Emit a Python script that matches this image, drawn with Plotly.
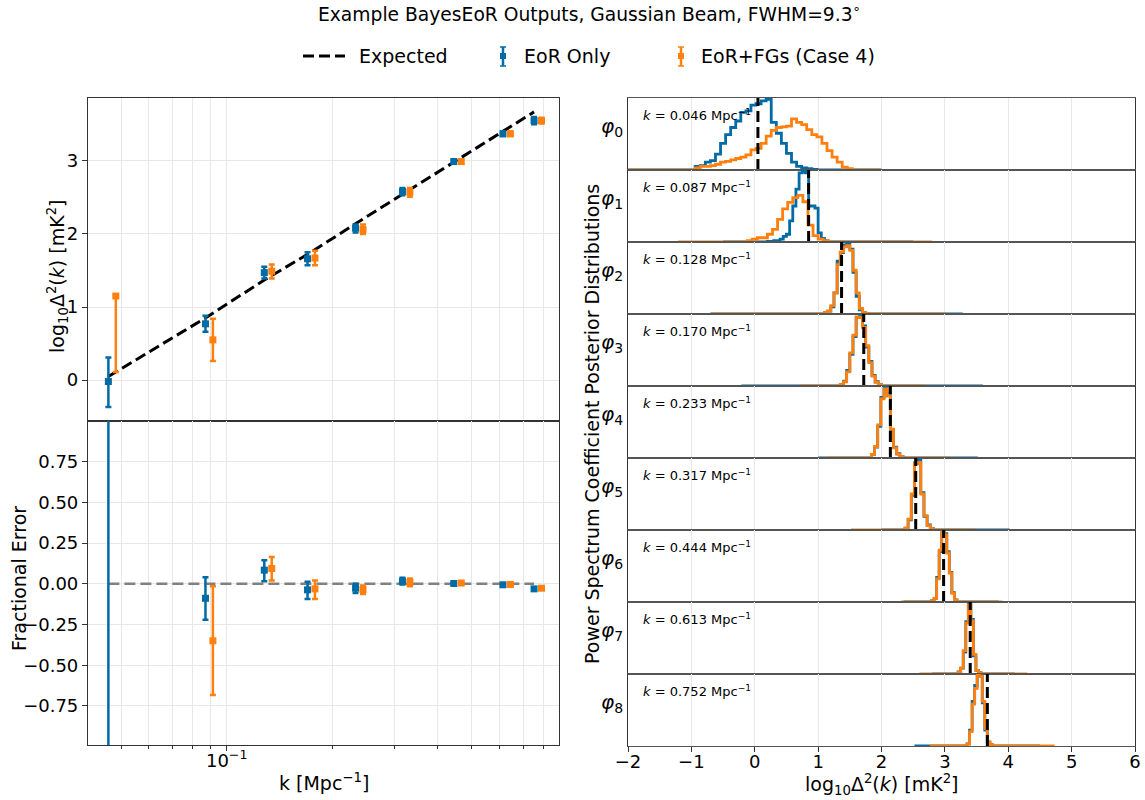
import math
import plotly.graph_objects as go

# ---------------- data ----------------
k_vals = [0.046, 0.087, 0.128, 0.170, 0.233, 0.317, 0.444, 0.613, 0.752]
k_labels = ["0.046", "0.087", "0.128", "0.170", "0.233", "0.317", "0.444", "0.613", "0.752"]
expected = [0.05, 0.85, 1.37, 1.72, 2.14, 2.54, 2.98, 3.40, 3.67]

eor_val = [-0.02, 0.77, 1.47, 1.66, 2.08, 2.58, 2.99, 3.37, 3.55]
eor_hi = [0.31, 0.88, 1.55, 1.75, 2.13, 2.63, 3.02, 3.40, 3.60]
eor_lo = [-0.37, 0.66, 1.39, 1.57, 2.02, 2.53, 2.96, 3.34, 3.50]

fg_val = [1.15, 0.55, 1.49, 1.67, 2.06, 2.57, 2.99, 3.37, 3.55]
fg_hi = [1.17, 0.84, 1.58, 1.77, 2.13, 2.63, 3.02, 3.40, 3.59]
fg_lo = [0.11, 0.26, 1.39, 1.57, 2.00, 2.51, 2.96, 3.34, 3.51]

eor_frac = [1.5, -0.089, 0.084, -0.037, -0.027, 0.016, 0.002, -0.006, -0.031]
eor_frac_hi = [6.0, 0.04, 0.144, 0.012, 0.0, 0.037, 0.010, 0.002, -0.021]
eor_frac_lo = [-3.0, -0.22, 0.016, -0.093, -0.056, -0.004, -0.006, -0.014, -0.041]

fg_frac = [11.6, -0.35, 0.094, -0.031, -0.035, 0.008, 0.005, -0.004, -0.027]
fg_frac_hi = [12.0, -0.015, 0.164, 0.02, -0.01, 0.033, 0.013, 0.004, -0.019]
fg_frac_lo = [1.3, -0.683, 0.020, -0.093, -0.062, -0.015, -0.003, -0.012, -0.035]

zero_line = [0, 0, 0, 0, 0, 0, 0, 0, 0]

# posterior histograms (relative heights), bin starts, widths, tail extents
eor_hist_start = [-0.94, 0.20, 1.10, 1.35, 1.84, 2.37, 2.79, 3.21, 3.35]
eor_hist_width = [0.08, 0.05, 0.05, 0.05, 0.05, 0.05, 0.04, 0.04, 0.04]
eor_hist_counts = [
    [0.05, 0.06, 0.11, 0.13, 0.22, 0.37, 0.49, 0.59, 0.68, 0.80, 0.82, 0.90, 0.92, 0.96, 0.98, 0.66, 0.51, 0.37, 0.23, 0.11, 0.05, 0.03, 0.02, 0.01],
    [0.01, 0.01, 0.02, 0.02, 0.04, 0.08, 0.11, 0.30, 0.51, 0.75, 0.98, 1.0, 0.98, 0.51, 0.51, 0.48, 0.13, 0.05, 0.02],
    [0.02, 0.04, 0.10, 0.30, 0.75, 0.87, 0.98, 1.00, 0.92, 0.59, 0.25, 0.06, 0.02, 0.01],
    [0.02, 0.07, 0.22, 0.45, 0.70, 0.97, 1.00, 0.85, 0.55, 0.35, 0.15, 0.06, 0.02],
    [0.05, 0.15, 0.44, 0.84, 0.98, 0.90, 0.39, 0.15, 0.06, 0.02],
    [0.02, 0.14, 0.48, 0.93, 0.98, 0.52, 0.19, 0.07, 0.02],
    [0.02, 0.05, 0.34, 0.70, 0.98, 0.95, 0.70, 0.41, 0.13, 0.03],
    [0.03, 0.08, 0.30, 0.72, 0.97, 0.75, 0.25, 0.05, 0.02],
    [0.03, 0.22, 0.62, 0.84, 0.97, 0.98, 0.60, 0.22, 0.05, 0.02],
]
eor_hist_tail_lo = [-2.3, -0.5, -0.7, -0.21, 1.0, 2.0, 2.35, 2.8, 2.52]
eor_hist_tail_hi = [2.0, 2.5, 3.28, 3.6, 3.52, 4.02, 3.85, 4.1, 4.5]

fg_hist_start = [-0.94, -0.12, 1.10, 1.35, 1.84, 2.37, 2.79, 3.21, 3.35]
fg_hist_width = [0.08, 0.08, 0.05, 0.05, 0.05, 0.05, 0.04, 0.04, 0.04]
fg_hist_counts = [
    [0.03, 0.05, 0.05, 0.06, 0.08, 0.11, 0.12, 0.14, 0.16, 0.18, 0.21, 0.28, 0.30, 0.37, 0.47, 0.55, 0.59, 0.60, 0.61, 0.71, 0.66, 0.63, 0.56, 0.49, 0.46, 0.37, 0.27, 0.18, 0.11, 0.04, 0.02],
    [0.02, 0.04, 0.06, 0.06, 0.11, 0.18, 0.32, 0.47, 0.56, 0.63, 0.66, 0.57, 0.24, 0.09, 0.04, 0.02],
    [0.02, 0.04, 0.12, 0.30, 0.70, 0.88, 0.95, 0.97, 0.90, 0.62, 0.30, 0.08, 0.02, 0.01],
    [0.02, 0.06, 0.20, 0.47, 0.72, 0.98, 0.97, 0.83, 0.57, 0.33, 0.14, 0.05, 0.02],
    [0.05, 0.16, 0.46, 0.82, 0.96, 0.86, 0.40, 0.14, 0.05, 0.02],
    [0.03, 0.15, 0.50, 0.92, 0.94, 0.50, 0.20, 0.06, 0.02],
    [0.02, 0.05, 0.32, 0.72, 0.97, 0.93, 0.68, 0.40, 0.12, 0.03],
    [0.03, 0.08, 0.32, 0.70, 0.95, 0.73, 0.27, 0.05, 0.02],
    [0.03, 0.20, 0.58, 0.80, 0.98, 0.97, 0.62, 0.24, 0.06, 0.02],
]
fg_hist_tail_lo = [-2.3, -1.21, -0.68, 0.71, 1.13, 1.52, 2.31, 2.6, 2.76]
fg_hist_tail_hi = [1.97, 2.8, 3.02, 2.7, 3.08, 3.47, 3.91, 4.3, 4.73]

right_xticks = [-2, -1, 0, 1, 2, 3, 4, 5, 6]
right_xticktext = ["−2", "−1", "0", "1", "2", "3", "4", "5", "6"]
left_top_yticks = [0, 1, 2, 3]
left_bot_yticks = [-0.75, -0.5, -0.25, 0.0, 0.25, 0.5, 0.75]
left_bot_yticktext = ["−0.75", "−0.50", "−0.25", "0.00", "0.25", "0.50", "0.75"]
minor_k = [0.05, 0.06, 0.07, 0.08, 0.09, 0.2, 0.3, 0.4, 0.5, 0.6, 0.7, 0.8]

# ---------------- style ----------------
BLUE = "#006BA4"
ORANGE = "#FF800E"
GRID = "#e8e8e8"
AXC = "#333333"
SEP = "#555555"
FONT = "DejaVu Sans"
W, H = 1145, 800
DASH = "11px,5px"
OFFSET = 1.05
TICKF = dict(family=FONT, size=18, color="black")
LABF = dict(family=FONT, size=19, color="black")


def px_x(p):
    return p / W


def px_y(p):
    return 1 - p / H


fig = go.Figure()

# ---------- left top ----------
k_fg = [k * OFFSET for k in k_vals]
fig.add_trace(go.Scatter(x=k_vals, y=expected, mode="lines", line=dict(color="black", width=3, dash=DASH),
                         xaxis="x", yaxis="y", showlegend=False))
fig.add_trace(go.Scatter(
    x=k_vals, y=eor_val, mode="markers", marker=dict(symbol="square", size=7, color=BLUE),
    error_y=dict(type="data", symmetric=False, array=[h - v for h, v in zip(eor_hi, eor_val)],
                 arrayminus=[v - l for v, l in zip(eor_val, eor_lo)], color=BLUE, thickness=2.5, width=3),
    xaxis="x", yaxis="y", showlegend=False))
fig.add_trace(go.Scatter(
    x=k_fg, y=fg_val, mode="markers", marker=dict(symbol="square", size=7, color=ORANGE),
    error_y=dict(type="data", symmetric=False, array=[h - v for h, v in zip(fg_hi, fg_val)],
                 arrayminus=[v - l for v, l in zip(fg_val, fg_lo)], color=ORANGE, thickness=2.5, width=3),
    xaxis="x", yaxis="y", showlegend=False))

# ---------- left bottom ----------
fig.add_trace(go.Scatter(x=k_vals, y=zero_line, mode="lines", line=dict(color="#808080", width=2.5, dash=DASH),
                         xaxis="x2", yaxis="y2", showlegend=False))
fig.add_trace(go.Scatter(
    x=k_vals, y=eor_frac, mode="markers", marker=dict(symbol="square", size=7, color=BLUE),
    error_y=dict(type="data", symmetric=False, array=[h - v for h, v in zip(eor_frac_hi, eor_frac)],
                 arrayminus=[v - l for v, l in zip(eor_frac, eor_frac_lo)], color=BLUE, thickness=2.5, width=3),
    xaxis="x2", yaxis="y2", showlegend=False))
fig.add_trace(go.Scatter(
    x=k_fg, y=fg_frac, mode="markers", marker=dict(symbol="square", size=7, color=ORANGE),
    error_y=dict(type="data", symmetric=False, array=[h - v for h, v in zip(fg_frac_hi, fg_frac)],
                 arrayminus=[v - l for v, l in zip(fg_frac, fg_frac_lo)], color=ORANGE, thickness=2.5, width=3),
    xaxis="x2", yaxis="y2", showlegend=False))

xr = [math.log10(0.04024), math.log10(0.8857)]
left_dom = [px_x(88), px_x(559)]
common_left_x = dict(type="log", range=xr, domain=left_dom, showline=True, linecolor=AXC, linewidth=1.2,
                     mirror=True, ticks="outside", ticklen=5, tickcolor=AXC, tickvals=[0.1],
                     showgrid=True, gridcolor=GRID, gridwidth=1, zeroline=False, automargin=False,
                     minor=dict(tickvals=minor_k, ticks="outside", ticklen=3, tickcolor=AXC,
                                showgrid=True, gridcolor=GRID, gridwidth=1),
                     tickfont=TICKF)
layout = dict(
    template="none",
    width=W, height=H, margin=dict(l=0, r=0, t=0, b=0, pad=0, autoexpand=False),
    paper_bgcolor="white", plot_bgcolor="white",
    font=dict(family=FONT, color="black"),
    showlegend=False,
)
layout["xaxis"] = dict(common_left_x, anchor="y", showticklabels=False)
layout["xaxis2"] = dict(common_left_x, anchor="y2", ticktext=["10<sup>−1</sup>"], ticklabelstandoff=-6)
layout["yaxis"] = dict(domain=[px_y(421), px_y(98)], range=[-0.56, 3.86], anchor="x", tickvals=left_top_yticks,
                       showline=True, linecolor=AXC, linewidth=1.2, mirror=True, ticks="outside", ticklen=5,
                       tickcolor=AXC, showgrid=True, gridcolor=GRID, zeroline=False, tickfont=TICKF,
                       automargin=False)
layout["yaxis2"] = dict(domain=[px_y(745), px_y(421)], range=[-0.99, 1.0], anchor="x2", tickvals=left_bot_yticks,
                        ticktext=left_bot_yticktext,
                        showline=True, linecolor=AXC, linewidth=1.2, mirror=True, ticks="outside", ticklen=5,
                        tickcolor=AXC, showgrid=True, gridcolor=GRID, zeroline=False, tickfont=TICKF,
                        automargin=False)

# ---------- right histograms ----------
annotations = []


def hist_xy(start, width, counts, lo, hi):
    xs = [lo]
    ys = [0]
    for i, c in enumerate(counts):
        xs.append(start + i * width)
        ys.append(c)
    xs.append(start + len(counts) * width)
    ys.append(0)
    xs.append(hi)
    ys.append(0)
    return xs, ys


right_dom = [px_x(628), px_x(1135)]
n = len(k_vals)
for i in range(n):
    ax = i + 3
    xa = "x%d" % ax
    ya = "y%d" % ax
    bx, by = hist_xy(eor_hist_start[i], eor_hist_width[i], eor_hist_counts[i], eor_hist_tail_lo[i], eor_hist_tail_hi[i])
    ox, oy = hist_xy(fg_hist_start[i], fg_hist_width[i], fg_hist_counts[i], fg_hist_tail_lo[i], fg_hist_tail_hi[i])
    ymax = max(max(eor_hist_counts[i]), max(fg_hist_counts[i])) * 1.02
    fig.add_trace(go.Scatter(x=bx, y=by, mode="lines", line=dict(color=BLUE, width=2.8, shape="hv"),
                             xaxis=xa, yaxis=ya, showlegend=False))
    fig.add_trace(go.Scatter(x=ox, y=oy, mode="lines", line=dict(color=ORANGE, width=2.8, shape="hv"),
                             xaxis=xa, yaxis=ya, showlegend=False))
    fig.add_trace(go.Scatter(x=[expected[i], expected[i]], y=[0, ymax], mode="lines",
                             line=dict(color="black", width=3, dash=DASH),
                             xaxis=xa, yaxis=ya, showlegend=False))
    top = 98 + 72 * i
    bot = top + 72
    last = (i == n - 1)
    xdict = dict(domain=right_dom, anchor=ya, range=[-2, 6], tickvals=right_xticks,
                 showticklabels=last, ticks="outside" if last else "", ticklen=5,
                 tickcolor=AXC, showline=True, linecolor=SEP, linewidth=1.3, mirror=True,
                 showgrid=True, gridcolor=GRID, zeroline=False, tickfont=TICKF, automargin=False,
                 layer="below traces")
    if last:
        xdict["ticklabelstandoff"] = -6
        xdict["ticktext"] = right_xticktext
    layout["xaxis%d" % ax] = xdict
    layout["yaxis%d" % ax] = dict(domain=[px_y(bot), px_y(top)], anchor=xa, range=[0, ymax],
                                  showticklabels=False, ticks="", showgrid=False, zeroline=False,
                                  showline=True, linecolor=AXC, linewidth=1.2, mirror=True, automargin=False)
    annotations.append(dict(text="<i>k</i> = %s Mpc<sup>−1</sup>" % k_labels[i], xref="%s domain" % xa,
                            yref="%s domain" % ya, x=0.025, y=0.76, xanchor="left", yanchor="middle",
                            showarrow=False, font=dict(family=FONT, size=13, color="black")))
    annotations.append(dict(text="<i>φ</i><sub>%d</sub>" % i, xref="paper", yref="paper",
                            x=px_x(625), y=px_y(top + 29), xanchor="right", yanchor="middle",
                            showarrow=False, font=dict(family=FONT, size=20, color="black")))

# ---------- titles / labels ----------
annotations += [
    dict(text="Example BayesEoR Outputs, Gaussian Beam, FWHM=9.3<sup>∘</sup>", xref="paper", yref="paper",
         x=px_x(589), y=px_y(13), xanchor="center", yanchor="middle", showarrow=False,
         font=dict(family=FONT, size=18.7, color="black")),
    dict(text="log<sub>10</sub>Δ<sup>2</sup>(<i>k</i>) [mK<sup>2</sup>]", xref="paper", yref="paper",
         x=px_x(57), y=px_y(276), textangle=-90, xanchor="center", yanchor="middle", showarrow=False,
         font=LABF),
    dict(text="Fractional Error", xref="paper", yref="paper",
         x=px_x(19), y=px_y(579), textangle=-90, xanchor="center", yanchor="middle", showarrow=False,
         font=LABF),
    dict(text="k [Mpc<sup>−1</sup>]", xref="paper", yref="paper",
         x=px_x(324), y=px_y(782), xanchor="center", yanchor="middle", showarrow=False,
         font=LABF),
    dict(text="log<sub>10</sub>Δ<sup>2</sup>(<i>k</i>) [mK<sup>2</sup>]", xref="paper", yref="paper",
         x=px_x(882), y=px_y(784), xanchor="center", yanchor="middle", showarrow=False,
         font=LABF),
    dict(text="Power Spectrum Coefficient Posterior Distributions", xref="paper", yref="paper",
         x=px_x(592), y=px_y(424), textangle=-90, xanchor="center", yanchor="middle", showarrow=False,
         font=LABF),
    # legend texts
    dict(text="Expected", xref="paper", yref="paper", x=px_x(357), y=px_y(56), xanchor="left",
         yanchor="middle", showarrow=False, font=LABF),
    dict(text="EoR Only", xref="paper", yref="paper", x=px_x(522), y=px_y(56), xanchor="left",
         yanchor="middle", showarrow=False, font=LABF),
    dict(text="EoR+FGs (Case 4)", xref="paper", yref="paper", x=px_x(699), y=px_y(56), xanchor="left",
         yanchor="middle", showarrow=False, font=LABF),
]

shapes = [
    dict(type="line", xref="paper", yref="paper", x0=px_x(303), x1=px_x(345), y0=px_y(56), y1=px_y(56),
         line=dict(color="black", width=3, dash=DASH)),
]
for cx, col in [(503, BLUE), (681, ORANGE)]:
    shapes += [
        dict(type="line", xref="paper", yref="paper", x0=px_x(cx), x1=px_x(cx), y0=px_y(47), y1=px_y(66),
             line=dict(color=col, width=2.5)),
        dict(type="line", xref="paper", yref="paper", x0=px_x(cx - 3), x1=px_x(cx + 3), y0=px_y(47), y1=px_y(47),
             line=dict(color=col, width=1.5)),
        dict(type="line", xref="paper", yref="paper", x0=px_x(cx - 3), x1=px_x(cx + 3), y0=px_y(66), y1=px_y(66),
             line=dict(color=col, width=1.5)),
        dict(type="rect", xref="paper", yref="paper", x0=px_x(cx - 3), x1=px_x(cx + 3), y0=px_y(53), y1=px_y(59),
             fillcolor=col, line=dict(color=col, width=0)),
    ]

layout["annotations"] = annotations
layout["shapes"] = shapes
fig.update_layout(**layout)
fig.write_html("out.html", config={"displayModeBar": False},
               post_script="document.body.style.margin='0px';document.body.style.overflow='hidden';")
